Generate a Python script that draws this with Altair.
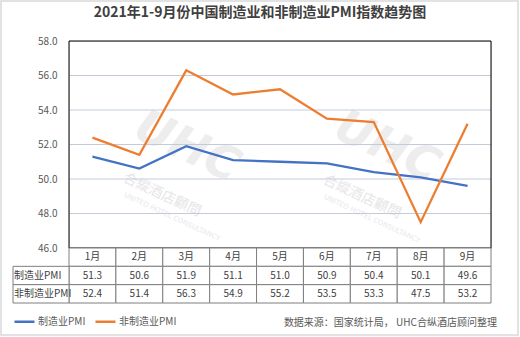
import altair as alt
import pandas as pd

months = ["1月", "2月", "3月", "4月", "5月", "6月", "7月", "8月", "9月"]
manufacturing = [51.3, 50.6, 51.9, 51.1, 51.0, 50.9, 50.4, 50.1, 49.6]
non_manufacturing = [52.4, 51.4, 56.3, 54.9, 55.2, 53.5, 53.3, 47.5, 53.2]
series_names = ["制造业PMI", "非制造业PMI"]
y_ticks = [46, 48, 50, 52, 54, 56, 58]
title_text = "2021年1-9月份中国制造业和非制造业PMI指数趋势图"
source_text = "数据来源：国家统计局， UHC合纵酒店顾问整理"
wm_logo = "UHC"
wm_name = "合縱酒店顧問"
wm_en = "UNITED HOTEL CONSULTANCY"

FONT = "Noto Sans CJK SC"
BLUE = "#4472C4"
ORANGE = "#ED7D31"
TXT = "#595959"

line_df = pd.DataFrame({
    "月份": months * 2,
    "系列": [series_names[0]] * len(months) + [series_names[1]] * len(months),
    "值": manufacturing + non_manufacturing,
})

row_keys = ["月份"] + series_names
cells = []
for m in months:
    cells.append({"月份": m, "行": "月份", "文本": m})
for name, vals in zip(series_names, [manufacturing, non_manufacturing]):
    for m, v in zip(months, vals):
        cells.append({"月份": m, "行": name, "文本": f"{v:.1f}"})
table_df = pd.DataFrame(cells)
header_df = pd.DataFrame({"行": series_names})
grid_df = pd.DataFrame({"v": y_ticks[1:-1]})
one = pd.DataFrame({"t": [source_text]})

x_band = alt.Scale(type="band", domain=months, paddingInner=0, paddingOuter=0)
y_q = alt.Scale(domain=[46, 58], zero=False, nice=False)
y_rows = alt.Scale(type="band", domain=row_keys, range=[207, 262], paddingInner=0, paddingOuter=0)

border = alt.Chart(one).mark_rect(fillOpacity=0, stroke="#d9d9d9", strokeWidth=1.5).encode(
    x=alt.value(-68), x2=alt.value(449), y=alt.value(-40), y2=alt.value(294)
)

title = alt.Chart(one).mark_text(fontSize=14, font=FONT, fontWeight="bold", color="#404040",
                                 baseline="middle").encode(
    x=alt.value(191), y=alt.value(-28), text=alt.value(title_text)
)

wm = []
for (lx, ly), (nx, ny), (ex, ey) in [((118, 106), (93, 154), (103, 176)), ((318, 106), (293, 156), (303, 178))]:
    wm.append(alt.Chart(one).mark_text(fontSize=46, font="DejaVu Sans", fontWeight="bold",
                                       fontStyle="italic", color="#ededed", angle=25).encode(
        x=alt.value(lx), y=alt.value(ly), text=alt.value(wm_logo)))
    wm.append(alt.Chart(one).mark_text(fontSize=14, font="Noto Sans CJK TC", color="#e6e6e6", angle=25).encode(
        x=alt.value(nx), y=alt.value(ny), text=alt.value(wm_name)))
    wm.append(alt.Chart(one).mark_text(fontSize=7, font="DejaVu Sans", color="#e8e8e8", angle=25).encode(
        x=alt.value(ex), y=alt.value(ey), text=alt.value(wm_en)))

grid = alt.Chart(grid_df).mark_rule(color="#c3cbdb", strokeWidth=1).encode(
    y=alt.Y("v:Q", scale=y_q, axis=None)
)

frame = alt.Chart(one).mark_rect(fillOpacity=0, stroke="black", strokeWidth=1).encode(
    x=alt.value(0), x2=alt.value(422), y=alt.value(0), y2=alt.value(207)
)

lines = alt.Chart(line_df).mark_line(strokeWidth=2.3).encode(
    x=alt.X("月份:N", scale=x_band, axis=None, bandPosition=0.5),
    y=alt.Y("值:Q", scale=y_q, axis=alt.Axis(
        values=y_ticks, format=".1f", ticks=False, domain=False, grid=False,
        labelPadding=12, labelFontSize=10, labelColor=TXT, labelFont=FONT, title=None)),
    color=alt.Color("系列:N", scale=alt.Scale(domain=series_names, range=[BLUE, ORANGE]),
                    legend=alt.Legend(orient="none", legendX=-56, legendY=269, direction="horizontal",
                                      title=None, symbolType="stroke", symbolSize=400,
                                      symbolStrokeWidth=2.5, labelFontSize=10, labelColor=TXT,
                                      labelFont=FONT, columnPadding=4, labelOffset=2)),
)

cell_rects = alt.Chart(table_df).mark_rect(fill="white", stroke="#7f7f7f", strokeWidth=1).encode(
    x=alt.X("月份:N", scale=x_band, axis=None),
    y=alt.Y("行:N", scale=y_rows, axis=None),
)
cell_text = alt.Chart(table_df).mark_text(fontSize=10, color="#404040", font=FONT).encode(
    x=alt.X("月份:N", scale=x_band, axis=None, bandPosition=0.5),
    y=alt.Y("行:N", scale=y_rows, axis=None, bandPosition=0.5),
    text="文本:N",
)
head_rects = alt.Chart(header_df).mark_rect(fill="white", stroke="#7f7f7f", strokeWidth=1).encode(
    x=alt.value(-56), x2=alt.value(0),
    y=alt.Y("行:N", scale=y_rows, axis=None),
)
head_text = alt.Chart(header_df).mark_text(fontSize=10, color="#404040", font=FONT, align="left").encode(
    x=alt.value(-55),
    y=alt.Y("行:N", scale=y_rows, axis=None, bandPosition=0.5),
    text="行:N",
)
source = alt.Chart(one).mark_text(fontSize=10, color=TXT, font=FONT, align="right").encode(
    x=alt.value(428), y=alt.value(282), text="t:N"
)

chart = alt.layer(
    border, title, *wm, grid, frame, lines, cell_rects, cell_text, head_rects, head_text, source
).resolve_scale(y="independent").properties(
    width=422, height=207,
    padding={"left": 69, "top": 41, "right": 29, "bottom": 89},
    autosize=alt.AutoSizeParams(type="none"),
).configure_view(stroke=None).configure(background="white")

chart.save("out.html", embed_options={"renderer": "svg", "actions": False})
